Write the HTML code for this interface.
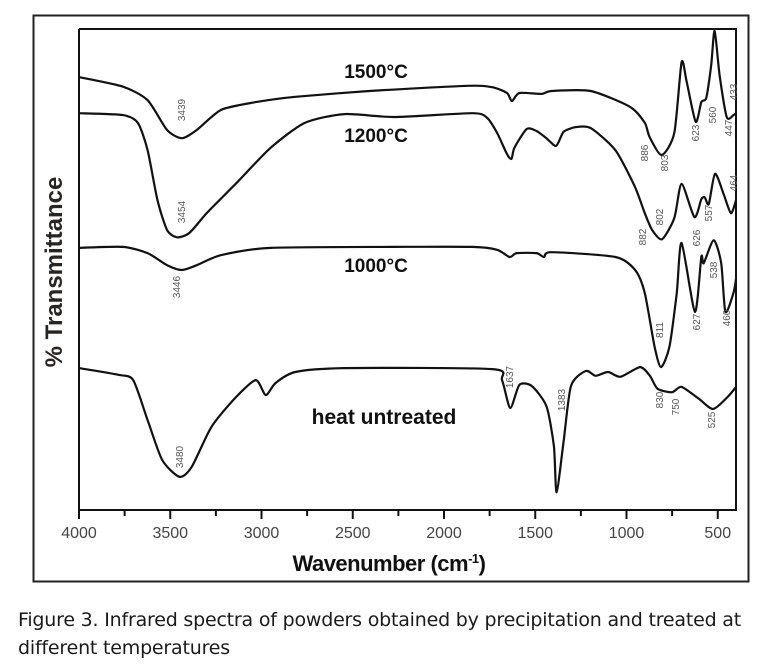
<!DOCTYPE html>
<html><head><meta charset="utf-8">
<style>
body{margin:0;background:#fff;width:771px;height:670px;overflow:hidden;}
svg{display:block;}
.cap{position:absolute;left:18px;top:606px;font-family:"DejaVu Sans","Liberation Sans",sans-serif;font-size:19px;color:#1a1a1a;line-height:28px;letter-spacing:-0.2px;white-space:nowrap;}
</style></head>
<body>
<svg id="chart" width="771" height="600" xmlns="http://www.w3.org/2000/svg" style="position:absolute;left:0;top:0">
<rect x="33.5" y="15.5" width="715" height="566" fill="none" stroke="#222" stroke-width="2"/>
<g id="axes"></g>
<g id="series"></g>
<g id="ann"></g>
</svg>
<div class="cap">Figure 3. Infrared spectra of powders obtained by precipitation and treated at<br>different temperatures</div>
<script>
const xTicks=[4000,3500,3000,2500,2000,1500,1000,500];
const minorTicks=[3750,3250,2750,2250,1750,1250,750];
// values: wavenumber and transmittance (arbitrary units, 0..100)
const wn1500=[4000,3759,3624,3517,3436,3355,3220,3031,2815,2410,1871,1736,1655,1628,1587,1466,1412,1196,980,900,873,807,738,698,670,621,590,563,536,517,490,451,414,400];
const t1500=[90,88,85.2,79,77.3,79,83.2,84.8,85.9,87.1,88.2,87.9,86.7,85,86.7,86.5,87.1,87.1,83.8,80.5,77.5,73.8,78.4,93.1,89,80.7,84.8,85.7,92.5,99.6,90.4,81.7,82.1,82.5];
const wn1200=[4000,3759,3678,3624,3570,3517,3463,3395,3301,3139,2950,2761,2545,2275,1844,1763,1709,1655,1630,1614,1547,1493,1439,1385,1345,1277,1196,1061,953,900,859,805,738,698,628,590,571,549,515,468,428,400];
const t1200=[82.5,82.1,80.5,74.8,64.4,58.2,56.7,57.6,61.7,67.9,75.3,80.5,82.3,81.7,82.5,81.5,78.4,74,73,75.3,79.2,78.8,77.3,75.7,78.6,79.6,79.4,74.8,67.1,61.7,58.2,56.3,60.7,67.8,60.9,64.6,65,63.6,69.9,65.7,61.7,64.4];
const wn1000=[4000,3759,3624,3517,3436,3355,3220,2950,2275,1844,1709,1641,1601,1493,1452,1412,1061,953,900,846,811,765,725,698,625,590,577,522,481,458,414,400];
const t1000=[54.5,54.7,53.4,50.9,49.9,50.9,53,54.5,54.7,54.7,54.1,52.6,53.4,53.4,52.6,53.6,52.6,49.9,45.1,33.9,29.7,33.9,45,55.5,41.2,52.6,51.3,56.1,51.3,41.2,45.1,48];
const wnRaw=[4000,3784,3703,3624,3544,3449,3382,3274,3139,3031,2977,2923,2815,2545,1736,1682,1637,1587,1520,1439,1398,1383,1345,1304,1223,1169,1101,1034,926,872,830,750,698,603,525,441,400];
const tRaw=[29.5,28.1,27,18.7,10.4,6.9,9,17.3,23.5,27,23.9,26.4,28.7,29.5,29.3,27,21.2,26,25.8,21.6,13.3,3.7,14.1,25.8,28.9,27.9,28.7,27.7,29.7,27.9,25.2,24.5,25.6,23.1,21,23.7,25.6];
const X0=79,X1=736,Y0=510,Y1=29;
function sx(w){return X0+(4000-w)*(X1-X0)/3600;}
function sy(v){return Y0-v*(Y0-Y1)/100;}
const NS="http://www.w3.org/2000/svg";
function mk(tag,attrs,parent){const e=document.createElementNS(NS,tag);for(const k in attrs)e.setAttribute(k,attrs[k]);parent.appendChild(e);return e;}
const axes=document.getElementById('axes');
let ax=mk('path',{d:`M${X0},${Y1} V${Y0} H${X1} V${Y1} H${X0}`,fill:'none',stroke:'#111','stroke-width':2},axes);


xTicks.forEach(t=>{
 const l=mk('line',{x1:sx(t),x2:sx(t),y1:Y0,y2:Y0+9,stroke:'#111','stroke-width':2},axes);
 
 
 const tx=mk('text',{x:sx(t),y:Y0+28,'text-anchor':'middle','font-family':'Liberation Sans, sans-serif','font-size':16,fill:'#444'},axes);
 tx.textContent=t;
 
 
});
minorTicks.forEach(t=>{
 const l=mk('line',{x1:sx(t),x2:sx(t),y1:Y0,y2:Y0+6,stroke:'#111','stroke-width':2},axes);
 
 
});
let xt=mk('text',{x:389,y:571,'text-anchor':'middle','font-family':'Liberation Sans, sans-serif','font-size':22,'font-weight':'bold',fill:'#111','letter-spacing':'-0.5'},axes);
xt.innerHTML='Wavenumber (cm<tspan dy="-8" font-size="13">-1</tspan><tspan dy="8">)</tspan>';


let yt=mk('text',{x:0,y:0,transform:'translate(62,272) rotate(-90)','text-anchor':'middle','font-family':'Liberation Sans, sans-serif','font-size':24,'font-weight':'bold',fill:'#2a2420'},axes);
yt.textContent='% Transmittance';


const ser=document.getElementById('series');
function line(wn,t,name){
 const P=wn.map((w,i)=>[sx(w),sy(t[i])]);
 let d='M'+P[0][0].toFixed(1)+','+P[0][1].toFixed(1);
 const k=0.12;
 for(let i=0;i<P.length-1;i++){
  const p0=P[Math.max(i-1,0)],p1=P[i],p2=P[i+1],p3=P[Math.min(i+2,P.length-1)];
  const c1=[p1[0]+(p2[0]-p0[0])*k,p1[1]+(p2[1]-p0[1])*k];
  const c2=[p2[0]-(p3[0]-p1[0])*k,p2[1]-(p3[1]-p1[1])*k];
  d+=` C${c1[0].toFixed(1)},${c1[1].toFixed(1)} ${c2[0].toFixed(1)},${c2[1].toFixed(1)} ${p2[0].toFixed(1)},${p2[1].toFixed(1)}`;
 }
 const p=mk('path',{d:d,fill:'none',stroke:'#111','stroke-width':2.2,'stroke-linejoin':'round'},ser);
 
 
}
line(wn1500,t1500,'spectrum-1500c');
line(wn1200,t1200,'spectrum-1200c');
line(wn1000,t1000,'spectrum-1000c');
line(wnRaw,tRaw,'spectrum-untreated');
const ann=document.getElementById('ann');
const seriesLabels=[['1500°C',376,78,19],['1200°C',376,142,19],['1000°C',376,272,19],['heat untreated',384,424,21]];
seriesLabels.forEach(s=>{
 const t=mk('text',{x:s[1],y:s[2],'text-anchor':'middle','font-family':'Liberation Sans, sans-serif','font-size':s[3],'font-weight':'bold',fill:'#111'},ann);
 t.textContent=s[0];
 
 
});
const peakLabels=[['3439',182,110],['886',645,153],['803',665,163],['623',696,133],['560',713,115],['447',729,128],['433',734,92],
['3454',182,212],['882',643,237],['802',660,217],['626',697,238],['557',709,213],['464',734,183],
['3446',177,287],['811',660,330],['627',697,322],['538',714,270],['460',727,318],
['3480',180,457],['1637',510,377],['1383',562,400],['830',660,400],['750',676,407],['525',712,420]];
peakLabels.forEach(p=>{
 const t=mk('text',{x:0,y:0,transform:`translate(${p[1]+3},${p[2]}) rotate(-90)`,'text-anchor':'middle','font-family':'Liberation Sans, sans-serif','font-size':10,fill:'#555'},ann);
 t.textContent=p[0];
 
 
});
</script>
</body></html>
